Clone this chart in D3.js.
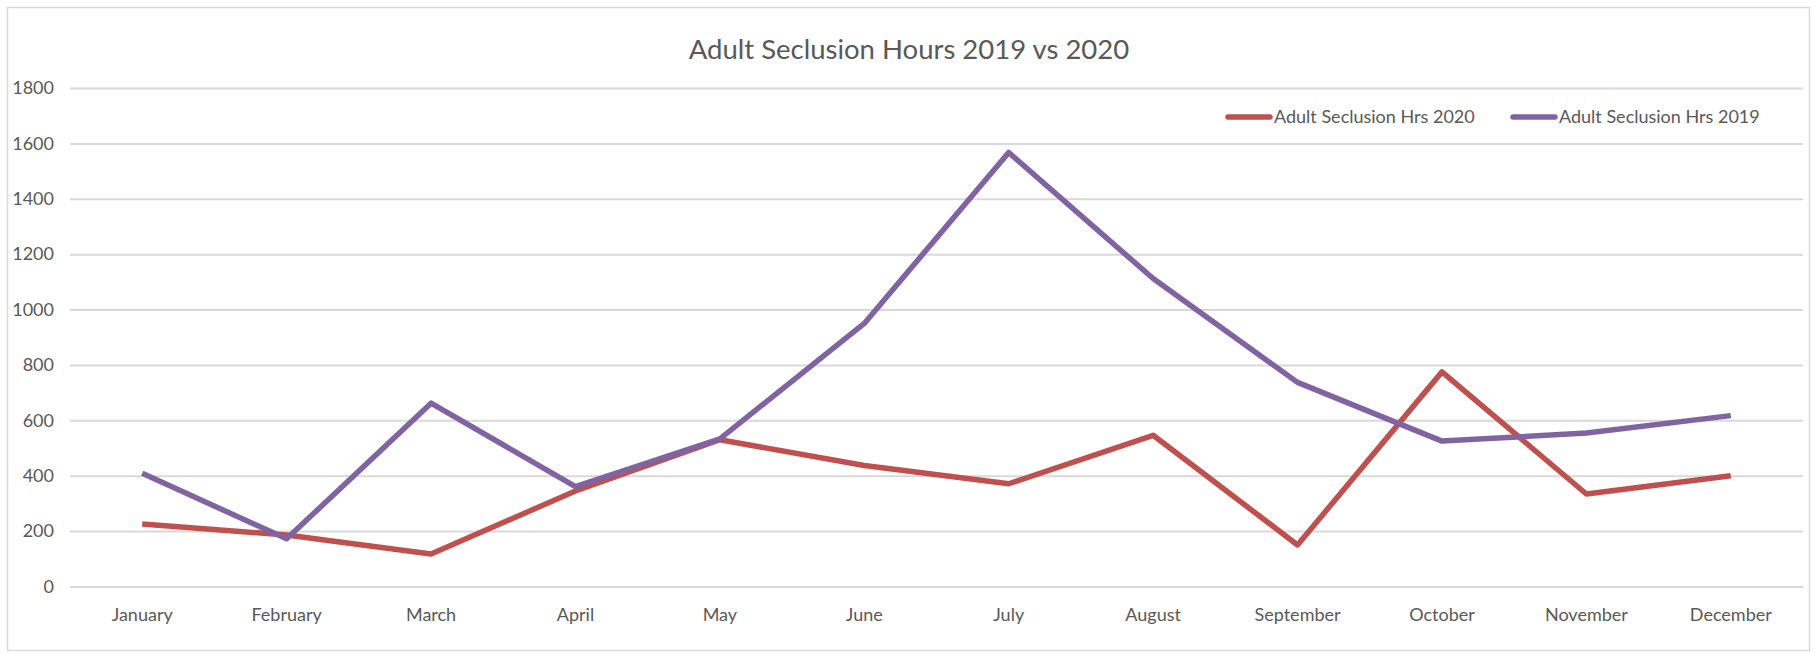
<!DOCTYPE html>
<html><head><meta charset="utf-8">
<script src="https://cdn.jsdelivr.net/npm/d3@7"></script>
<style>
body{margin:0;background:#fff;}
svg text{font-family:Lato,sans-serif;fill:#595959;}
</style></head>
<body>
<svg id="chart" width="1816" height="654"></svg>
<script>
const months = ["January","February","March","April","May","June","July","August","September","October","November","December"];
const hrs2020 = [226, 186, 117, 345, 530, 437, 371, 546, 150, 775, 334, 400];
const hrs2019 = [409, 172, 662, 361, 533, 950, 1567, 1112, 737, 525, 554, 617];
const yTicks = [0, 200, 400, 600, 800, 1000, 1200, 1400, 1600, 1800];
const seriesNames = ["Adult Seclusion Hrs 2020", "Adult Seclusion Hrs 2019"];
const seriesColors = ["#C0504D", "#8064A2"];
const title = "Adult Seclusion Hours 2019 vs 2020";

const svg = d3.select("#chart");
svg.append("rect").attr("x",7.5).attr("y",7.5).attr("width",1802).attr("height",643)
  .attr("fill","#fff").attr("stroke","#d9d9d9").attr("stroke-width",1.5);

const pL = 70, pR = 1803, pT = 88, pB = 586.5;
const x = d3.scaleBand().domain(months).range([pL, pR]);
const y = d3.scaleLinear().domain([0, 1800]).range([pB, pT]);

// gridlines
const yAxis = d3.axisLeft(y).tickValues(yTicks).tickFormat(d3.format("d")).tickSize(-(pR-pL)).tickPadding(16);
const gy = svg.append("g").attr("transform",`translate(${pL},0)`).call(yAxis);
gy.select(".domain").remove();
gy.selectAll(".tick line").attr("stroke","#d9d9d9").attr("stroke-width",2);
gy.selectAll(".tick text").attr("font-size",18).attr("fill","#595959").attr("font-family","Lato,sans-serif");

const xAxis = d3.axisBottom(x).tickSize(0).tickPadding(22);
const gx = svg.append("g").attr("transform",`translate(0,${pB})`).call(xAxis);
gx.select(".domain").remove();
gx.selectAll(".tick text").attr("font-size",18).attr("fill","#595959").attr("font-family","Lato,sans-serif");

// title
svg.append("text").attr("x",909).attr("y",59).attr("text-anchor","middle")
  .attr("font-size",27.5).text(title);

// lines
const line = d3.line().x((d,i)=>x(months[i])+x.bandwidth()/2).y(d=>y(d));
[hrs2020, hrs2019].forEach((vals,k)=>{
  svg.append("path").datum(vals).attr("d",line).attr("fill","none")
    .attr("stroke",seriesColors[k]).attr("stroke-width",5.5).attr("stroke-linejoin","round");
});

// legend
const legX = [1228, 1513];
seriesNames.forEach((n,k)=>{
  const g = svg.append("g").attr("transform",`translate(${legX[k]},117)`);
  g.append("line").attr("x1",0).attr("x2",42).attr("y1",0).attr("y2",0)
    .attr("stroke",seriesColors[k]).attr("stroke-width",5.5).attr("stroke-linecap","round");
  g.append("text").attr("x",46).attr("y",6).attr("font-size",18).text(n);
});
</script>
</body></html>
